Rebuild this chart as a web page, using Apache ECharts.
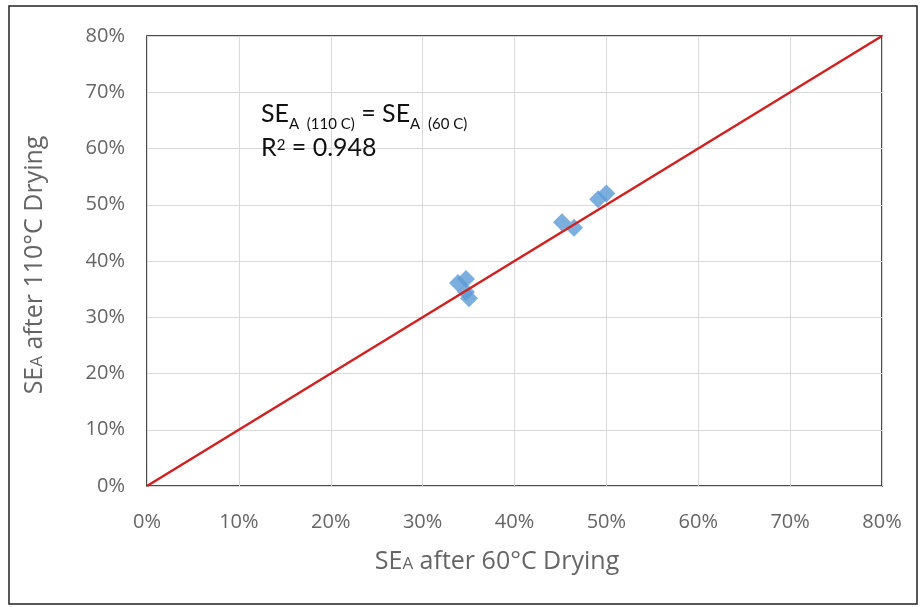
<!DOCTYPE html>
<html>
<head>
<meta charset="utf-8">
<script src="https://cdn.jsdelivr.net/npm/echarts@6/dist/echarts.min.js"></script>
<style>
  html, body { margin: 0; padding: 0; background: #fff; }
  #chart { width: 920px; height: 607px; }
</style>
</head>
<body>
<div id="chart"></div>
<script>
// SE_A measured after 60°C drying (x) vs after 110°C drying (y), in percent
const se60 = [33.85, 34.72, 34.72, 35.05, 45.17, 46.48, 49.1, 50.0];
const se110 = [36.1, 36.8, 34.5, 33.4, 46.9, 45.9, 51.0, 52.0];

// Line of equality SE_A(110 C) = SE_A(60 C)
const equalityLine = [[0, 0], [80, 80]];

// Axis tick values (percent)
const axisTicks = [0, 10, 20, 30, 40, 50, 60, 70, 80];

const points = se60.map((x, i) => [x, se110[i]]);

const labelFont = 'Open Sans';
const grey = '#656565';

const chart = echarts.init(document.getElementById('chart'), null, { renderer: 'canvas' });

const axisCommon = {
  type: 'value',
  min: axisTicks[0],
  max: axisTicks[axisTicks.length - 1],
  interval: axisTicks[1] - axisTicks[0],
  axisLine: { show: false },
  axisTick: { show: false },
  splitLine: { show: true, lineStyle: { color: '#d9d9d9', width: 1 } },
  axisLabel: {
    formatter: '{value}%',
    color: grey,
    fontFamily: labelFont,
    fontSize: 20
  }
};

const titleRich = {
  n: { fontFamily: labelFont, fontSize: 25, fill: grey, verticalAlign: 'bottom', lineHeight: 32 },
  a: { fontFamily: labelFont, fontSize: 17, fill: grey, verticalAlign: 'bottom', lineHeight: 30, padding: [0, 0, 1, 0] }
};

chart.setOption({
  animation: false,
  backgroundColor: '#ffffff',
  grid: {
    left: 147, right: 38, top: 36, bottom: 121,
    show: true,
    borderColor: '#111',
    borderWidth: 1.5,
    backgroundColor: 'transparent'
  },
  xAxis: Object.assign({}, axisCommon, {
    axisLabel: Object.assign({}, axisCommon.axisLabel, { margin: 26 })
  }),
  yAxis: Object.assign({}, axisCommon, {
    axisLabel: Object.assign({}, axisCommon.axisLabel, { margin: 22 })
  }),
  graphic: [
    {
      // outer frame of the chart
      type: 'rect',
      shape: { x: 9, y: 6, width: 908, height: 598 },
      style: { fill: 'none', stroke: '#222', lineWidth: 1.5 },
      z: 100
    },
    {
      type: 'text',
      left: 261,
      top: 101,
      z: 50,
      style: {
        text: '{b|SE}{s|A  (110 C)}{b| = SE}{s|A  (60 C)}\n{b|R}{p|2}{b| = 0.948}',
        fill: '#111',
        rich: {
          b: { fontFamily: 'Lato', fontSize: 25, lineHeight: 34, verticalAlign: 'bottom', padding: [0, 0, 6, 0], fill: '#111' },
          s: { fontFamily: 'Lato', fontSize: 15, lineHeight: 16, verticalAlign: 'bottom', fill: '#111' },
          p: { fontFamily: 'Lato', fontSize: 15, lineHeight: 16, verticalAlign: 'top', padding: [6, 0, 0, 0], fill: '#111' }
        }
      }
    },
    {
      // x-axis title
      type: 'text',
      x: 497,
      y: 558,
      style: {
        text: '{n|SE}{a|A}{n| after 60°C Drying}',
        align: 'center',
        verticalAlign: 'middle',
        rich: titleRich
      }
    },
    {
      // y-axis title
      type: 'text',
      x: 31,
      y: 265,
      rotation: Math.PI / 2,
      style: {
        text: '{n|SE}{a|A}{n| after 110°C Drying}',
        align: 'center',
        verticalAlign: 'middle',
        rich: titleRich
      }
    }
  ],
  series: [
    {
      type: 'scatter',
      data: points,
      symbol: 'diamond',
      symbolSize: [18, 18],
      itemStyle: { color: '#5b9bd5' },
      z: 3
    },
    {
      type: 'line',
      data: equalityLine,
      showSymbol: false,
      symbol: 'none',
      lineStyle: { color: '#d02020', width: 2.5 },
      z: 4
    }
  ]
});
</script>
</body>
</html>
